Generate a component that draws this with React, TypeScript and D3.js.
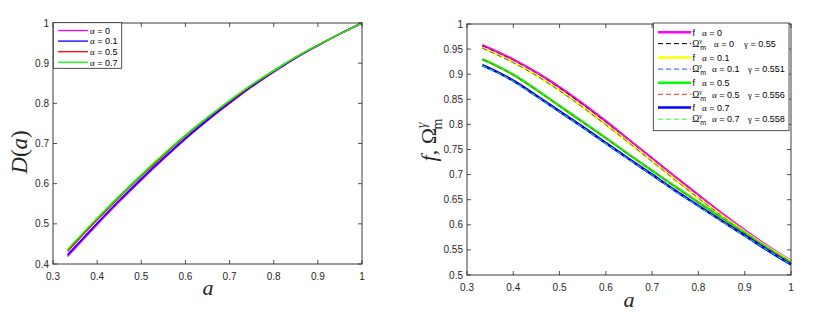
import React from "react";
import * as d3 from "d3";

// ---------- data ----------
const aGrid = [0.333, 0.35, 0.4, 0.45, 0.5, 0.55, 0.6, 0.65, 0.7, 0.75, 0.8, 0.85, 0.9, 0.95, 1.0];

const alphaLabels = ["0", "0.1", "0.5", "0.7"];
const gammaLabels = ["0.55", "0.551", "0.556", "0.558"];

// Left panel: growth factor D(a)
const D_a0 = [0.419, 0.439, 0.498, 0.555, 0.609, 0.661, 0.711, 0.757, 0.8, 0.841, 0.878, 0.913, 0.944, 0.973, 1.0];
const D_a01 = [0.423, 0.443, 0.5015, 0.558, 0.612, 0.6635, 0.713, 0.759, 0.8015, 0.842, 0.879, 0.9135, 0.944, 0.973, 1.0];
const D_a05 = [0.432, 0.452, 0.51, 0.566, 0.619, 0.67, 0.719, 0.764, 0.805, 0.845, 0.881, 0.915, 0.945, 0.973, 1.0];
const D_a07 = [0.436, 0.456, 0.514, 0.569, 0.622, 0.673, 0.721, 0.765, 0.807, 0.846, 0.881, 0.915, 0.945, 0.973, 1.0];

// Right panel: growth rate f and Omega_m^gamma
const f_a0 = [0.958, 0.951, 0.929, 0.903, 0.874, 0.841, 0.806, 0.769, 0.732, 0.695, 0.659, 0.623, 0.589, 0.557, 0.528];
const om_a0 = [0.956, 0.949, 0.927, 0.901, 0.872, 0.839, 0.804, 0.767, 0.73, 0.693, 0.657, 0.621, 0.587, 0.555, 0.527];
const f_a01 = [0.953, 0.946, 0.924, 0.898, 0.868, 0.835, 0.8, 0.764, 0.727, 0.69, 0.654, 0.619, 0.586, 0.555, 0.527];
const om_a01 = [0.952, 0.945, 0.923, 0.897, 0.867, 0.834, 0.799, 0.763, 0.726, 0.689, 0.653, 0.618, 0.585, 0.554, 0.527];
const f_a05 = [0.93, 0.923, 0.899, 0.869, 0.837, 0.805, 0.773, 0.74, 0.708, 0.676, 0.645, 0.614, 0.584, 0.553, 0.524];
const om_a05 = [0.929, 0.922, 0.898, 0.868, 0.836, 0.804, 0.772, 0.739, 0.707, 0.675, 0.644, 0.613, 0.583, 0.553, 0.524];
const f_a07 = [0.918, 0.911, 0.887, 0.857, 0.826, 0.795, 0.763, 0.731, 0.7, 0.668, 0.638, 0.608, 0.579, 0.549, 0.521];
const om_a07 = [0.917, 0.91, 0.886, 0.856, 0.825, 0.794, 0.762, 0.73, 0.699, 0.667, 0.637, 0.607, 0.578, 0.549, 0.521];

const xTicks = [0.3, 0.4, 0.5, 0.6, 0.7, 0.8, 0.9, 1];
const yTicksLeft = [0.4, 0.5, 0.6, 0.7, 0.8, 0.9, 1];
const yTicksRight = [0.5, 0.55, 0.6, 0.65, 0.7, 0.75, 0.8, 0.85, 0.9, 0.95, 1];

// ---------- styling ----------
const AX = "#262626";
const SANS = "'Liberation Sans', Arial, Helvetica, sans-serif";
const SERIF = "'Liberation Serif', 'Times New Roman', serif";

const leftSeries = [
  { values: D_a0, color: "#ff00ff" },
  { values: D_a01, color: "#0000ff" },
  { values: D_a05, color: "#ff0000" },
  { values: D_a07, color: "#00ff00" },
];

const rightSeries = [
  { values: f_a0, color: "#ff00ff", dashed: false },
  { values: om_a0, color: "#000000", dashed: true },
  { values: f_a01, color: "#ffff00", dashed: false },
  { values: om_a01, color: "#3050ff", dashed: true },
  { values: f_a05, color: "#00ff00", dashed: false },
  { values: om_a05, color: "#ff3030", dashed: true },
  { values: f_a07, color: "#0000ff", dashed: false },
  { values: om_a07, color: "#30ff30", dashed: true },
];

function fmt(v: number) {
  return String(+v.toFixed(2));
}

function Axes({ x, y, yTicks, tickLen = 4 }: any) {
  const [x0, x1] = x.range();
  const [y0, y1] = y.range(); // y0 bottom, y1 top
  return (
    <g>
      <rect x={x0} y={y1} width={x1 - x0} height={y0 - y1} fill="white" stroke="none" />
      {xTicks.map((t) => (
        <g key={"xt" + t}>
          <line x1={x(t)} x2={x(t)} y1={y0} y2={y0 - tickLen} stroke={AX} strokeWidth={0.8} />
          <line x1={x(t)} x2={x(t)} y1={y1} y2={y1 + tickLen} stroke={AX} strokeWidth={0.8} />
          <text x={x(t)} y={y0 + 15.5} textAnchor="middle" fontFamily={SANS} fontSize={10} fill={AX}>
            {fmt(t)}
          </text>
        </g>
      ))}
      {yTicks.map((t: number) => (
        <g key={"yt" + t}>
          <line x1={x0} x2={x0 + tickLen} y1={y(t)} y2={y(t)} stroke={AX} strokeWidth={0.8} />
          <line x1={x1} x2={x1 - tickLen} y1={y(t)} y2={y(t)} stroke={AX} strokeWidth={0.8} />
          <text x={x0 - 4} y={y(t)} dy="0.35em" textAnchor="end" fontFamily={SANS} fontSize={10} fill={AX}>
            {fmt(t)}
          </text>
        </g>
      ))}
    </g>
  );
}

function Frame({ x, y }: any) {
  const [x0, x1] = x.range();
  const [y0, y1] = y.range();
  return <rect x={x0} y={y1} width={x1 - x0} height={y0 - y1} fill="none" stroke={AX} strokeWidth={0.9} />;
}

export default function App() {
  const xL = d3.scaleLinear().domain([0.3, 1]).range([53, 362]);
  const yL = d3.scaleLinear().domain([0.4, 1]).range([264, 23]);
  const xR = d3.scaleLinear().domain([0.3, 1]).range([467, 791]);
  const yR = d3.scaleLinear().domain([0.5, 1]).range([275, 24]);

  const lineL = d3
    .line<number>()
    .x((_, i) => xL(aGrid[i]))
    .y((d) => yL(d))
    .curve(d3.curveMonotoneX);
  const lineR = d3
    .line<number>()
    .x((_, i) => xR(aGrid[i]))
    .y((d) => yR(d))
    .curve(d3.curveMonotoneX);

  // legend layout
  const lgL = { x: 53.3, y: 22.7, w: 68.4, h: 45.6, row0: 30.5, step: 10.6 };
  const lgR = { x: 653.3, y: 23, w: 135.7, h: 107.7 };
  const fRowY = [32.3, 57.5, 82.7, 107.5];
  const oRowY = [43.6, 69.1, 94.3, 119.2];
  const gammaX = [744, 748, 748, 748];
  const alphaOX = [714, 712, 712, 712];

  return (
    <svg
      width={830}
      height={315}
      style={{ position: "absolute", left: 0, top: 0, background: "white" }}
    >
      <rect x={0} y={0} width={830} height={315} fill="white" />

      {/* ---------------- Left panel ---------------- */}
      <Axes x={xL} y={yL} yTicks={yTicksLeft} />
      <g>
        {leftSeries.map((s, i) => (
          <path key={i} d={lineL(s.values) || ""} fill="none" stroke={s.color} strokeWidth={1.6} />
        ))}
      </g>
      <Frame x={xL} y={yL} />
      <text
        transform={`translate(27,152) rotate(-90)`}
        textAnchor="middle"
        fontFamily={SERIF}
        fontSize={23}
        fill={AX}
      >
        <tspan fontStyle="italic">D</tspan>
        <tspan>(</tspan>
        <tspan fontStyle="italic">a</tspan>
        <tspan>)</tspan>
      </text>
      <text x={208} y={295} textAnchor="middle" fontFamily={SERIF} fontStyle="italic" fontSize={22} fill={AX}>
        a
      </text>
      {/* left legend */}
      <rect x={lgL.x} y={lgL.y} width={lgL.w} height={lgL.h} fill="white" stroke={AX} strokeWidth={0.8} />
      {leftSeries.map((s, i) => {
        const yy = lgL.row0 + i * lgL.step;
        return (
          <g key={"ll" + i}>
            <line x1={58} x2={88} y1={yy} y2={yy} stroke={s.color} strokeWidth={1.3} />
            <text x={90} y={yy + 3.2} fontFamily={SANS} fontSize={9} fill="#000">
              <tspan fontFamily={SERIF}>α</tspan> = {alphaLabels[i]}
            </text>
          </g>
        );
      })}

      {/* ---------------- Right panel ---------------- */}
      <Axes x={xR} y={yR} yTicks={yTicksRight} />
      <g>
        {rightSeries.map((s, i) => (
          <path
            key={i}
            d={lineR(s.values) || ""}
            fill="none"
            stroke={s.color}
            strokeWidth={s.dashed ? 1 : 2.6}
            strokeDasharray={s.dashed ? "5,3" : undefined}
          />
        ))}
      </g>
      <Frame x={xR} y={yR} />
      <text
        transform={`translate(436,${140}) rotate(-90)`}
        textAnchor="middle"
        fontFamily={SERIF}
        fontSize={22}
        fill={AX}
      >
        <tspan fontStyle="italic">f</tspan>
        <tspan>, Ω</tspan>
        <tspan fontSize={14} fontStyle="italic" dy={-10}>γ</tspan>
        <tspan fontSize={14} dx={-7} dy={16}>m</tspan>
      </text>
      <text x={629} y={307} textAnchor="middle" fontFamily={SERIF} fontStyle="italic" fontSize={22} fill={AX}>
        a
      </text>
      {/* right legend */}
      <rect x={lgR.x} y={lgR.y} width={lgR.w} height={lgR.h} fill="white" stroke={AX} strokeWidth={0.8} />
      {alphaLabels.map((al, k) => {
        const fs = rightSeries[2 * k];
        const os = rightSeries[2 * k + 1];
        const yf = fRowY[k];
        const yo = oRowY[k];
        return (
          <g key={"lr" + k}>
            <line x1={658} x2={691} y1={yf} y2={yf} stroke={fs.color} strokeWidth={2.4} />
            <text x={692.5} y={yf + 3.2} fontFamily={SANS} fontSize={9} fill="#000">
              f
            </text>
            <text x={702} y={yf + 3.2} fontFamily={SANS} fontSize={9} fill="#000">
              <tspan fontFamily={SERIF}>α</tspan> = {al}
            </text>
            <line x1={658} x2={691} y1={yo} y2={yo} stroke={os.color} strokeWidth={1} strokeDasharray="5,3" />
            <text x={692.3} y={yo + 3.2} fontFamily={SERIF} fontSize={9.5} fill="#000">
              Ω
              <tspan fontSize={6.5} dy={-4}>γ</tspan>
              <tspan fontFamily={SANS} fontSize={7} dx={-2} dy={7}>m</tspan>
            </text>
            <text x={alphaOX[k]} y={yo + 3.2} fontFamily={SANS} fontSize={9} fill="#000">
              <tspan fontFamily={SERIF}>α</tspan> = {al}
            </text>
            <text x={gammaX[k]} y={yo + 3.2} fontFamily={SANS} fontSize={9} fill="#000">
              <tspan fontFamily={SERIF}>γ</tspan> = {gammaLabels[k]}
            </text>
          </g>
        );
      })}
    </svg>
  );
}
